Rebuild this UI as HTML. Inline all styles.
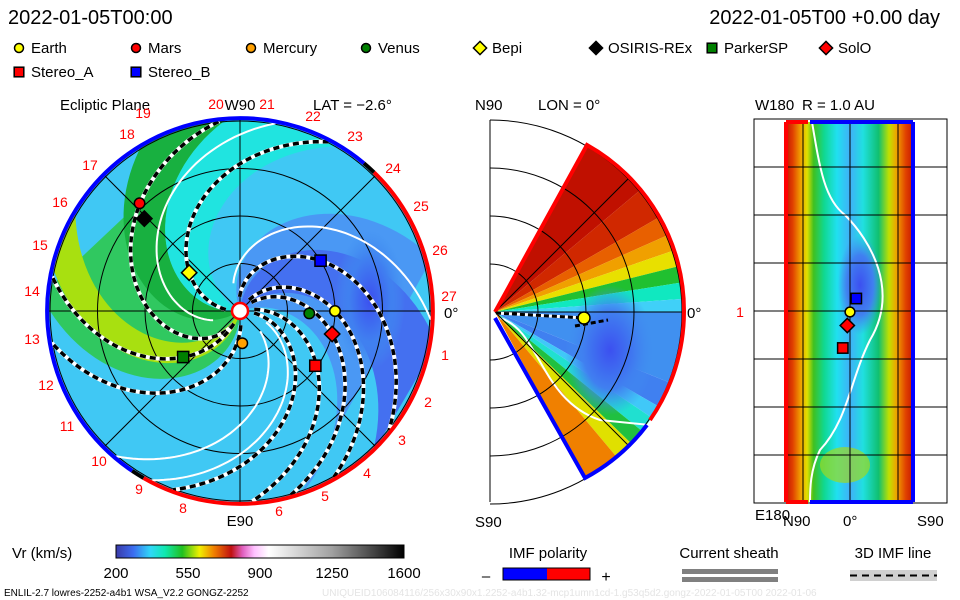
<!DOCTYPE html>
<html><head><meta charset="utf-8"><style>
html,body{margin:0;padding:0;background:#fff;width:960px;height:600px;overflow:hidden}
svg{position:absolute;left:0;top:0}
text{font-family:"Liberation Sans",sans-serif;}
</style></head><body>
<svg id="s" width="960" height="600" viewBox="0 0 960 600">
<defs>
<clipPath id="diskClip"><circle cx="240" cy="311" r="193"/></clipPath>
<clipPath id="wedgeClip"><path d="M495,312 L587,145 A190,190 0 0 1 585,478 Z"/></clipPath>
<linearGradient id="cbar" x1="0" x2="1" y1="0" y2="0">
<stop offset="0" stop-color="#3a3aa8"/><stop offset="0.06" stop-color="#3c6cf0"/><stop offset="0.12" stop-color="#30d8f8"/><stop offset="0.17" stop-color="#10e8b0"/><stop offset="0.23" stop-color="#20c020"/><stop offset="0.29" stop-color="#f0f000"/><stop offset="0.34" stop-color="#f08000"/><stop offset="0.4" stop-color="#c01010"/><stop offset="0.44" stop-color="#e060c0"/><stop offset="0.48" stop-color="#ffc0ff"/><stop offset="0.53" stop-color="#ffffff"/><stop offset="0.75" stop-color="#a0a0a0"/><stop offset="1" stop-color="#000000"/>
</linearGradient>
<linearGradient id="latGrad" x1="0" x2="1" y1="0" y2="0">
<stop offset="0" stop-color="#c01000"/><stop offset="0.06" stop-color="#e04000"/><stop offset="0.12" stop-color="#f0a000"/><stop offset="0.17" stop-color="#e0e000"/><stop offset="0.22" stop-color="#40c020"/><stop offset="0.3" stop-color="#10d890"/><stop offset="0.4" stop-color="#20e0f0"/><stop offset="0.5" stop-color="#40b0f8"/><stop offset="0.6" stop-color="#20e0e0"/><stop offset="0.72" stop-color="#10c070"/><stop offset="0.8" stop-color="#c0e000"/><stop offset="0.86" stop-color="#f0a000"/><stop offset="0.93" stop-color="#e04000"/><stop offset="1" stop-color="#c01000"/>
</linearGradient>
<radialGradient id="blobG"><stop offset="0" stop-color="#3c50f0"/><stop offset="0.6" stop-color="#4080f0"/><stop offset="1" stop-color="#4090f0" stop-opacity="0"/></radialGradient>
</defs>
<g id="disk" clip-path="url(#diskClip)"></g>
<g id="diskOver"></g>
<g id="wedge" clip-path="url(#wedgeClip)"></g>
<g id="wedgeOver"></g>
<g id="rect"></g>
<g id="labels"></g>
</svg>
<script>
// ---- data ----
const planetNames = ['Earth','Mars','Mercury','Venus','Bepi','OSIRIS-REx','ParkerSP','SolO','Stereo_A','Stereo_B'];
const planetAngles = [0,133,-86,-2,143,136,-141,-14,-36,32];     // degrees, ecliptic
const planetRadii = [1.0,1.55,0.34,0.73,0.67,1.40,0.77,1.0,0.98,1.0]; // AU
const planetShapes = ['circle','circle','circle','circle','diamond','diamond','square','diamond','square','square'];
const planetColors = ['#ffff00','#ff0000','#ffa000','#008000','#ffff00','#000000','#008000','#ff0000','#ff0000','#0000ff'];
const shellLat = [0,null,null,null,null,null,null,-3,-8,3];       // deg on R=1 panel
const shellLon = [0,null,null,null,null,null,null,-3,-8,7];
const spiralPhi1 = [32,0,-36,-14,-55,176,123,210,235];   // angle at 1 AU
const spiralK = [70,60,50,60,55,79,60,40,45];                // deg per AU
const sheathPhi1 = [60,-62,150,-80];
const sheathK = [62,55,70,50];
const bandA0 = [185,185,240,20,45,150];   // start angles at r=0
const bandA1 = [270,212,258,110,85,185];
const bandColors = ['#30c860','#18b040','#a8e010','#4a98f4','#4470f0','#20e4e0'];
const cbarTicks = ['200','550','900','1250','1600'];
const carrLabels = ['19','20','21','22','23','24','25','26','27','1','2','3','4','5','6','8','9','10','11','12','13','14','15','16','17','18'];

const NS='http://www.w3.org/2000/svg';
function mk(tag,attrs,parent){const e=document.createElementNS(NS,tag);for(const k in attrs)e.setAttribute(k,attrs[k]);parent.appendChild(e);return e;}
const CX=240,CY=311,S=95;
function pt(phi,r){const a=phi*Math.PI/180;return [CX+r*S*Math.cos(a),CY-r*S*Math.sin(a)];}
const disk=document.getElementById('disk'),over=document.getElementById('diskOver');

let e=mk('circle',{cx:CX,cy:CY,r:195,fill:'#40c8f4'},disk);


const k0=45;
for(let i=0;i<bandA0.length;i++){
  let p=[];
  for(let r=0;r<=2.1;r+=0.05){p.push(pt(bandA0[i]-k0*r,r));}
  for(let r=2.1;r>=0;r-=0.05){p.push(pt(bandA1[i]-k0*r,r));}
  e=mk('polygon',{points:p.map(q=>q.join(',')).join(' '),fill:bandColors[i]},disk);
  
  
}
e=mk('ellipse',{cx:370,cy:300,rx:35,ry:70,fill:'url(#blobG)'},disk);


// grid
[0.5,1,1.5,2].forEach(r=>{e=mk('circle',{cx:CX,cy:CY,r:r*S,fill:'none',stroke:'#000','stroke-width':1},over);

});
[0,45,90,135].forEach(a=>{const p1=pt(a,2.03),p2=pt(a+180,2.03);
e=mk('line',{x1:p1[0],y1:p1[1],x2:p2[0],y2:p2[1],stroke:'#000','stroke-width':1},over);

});
function spiralPath(p1,k,r0,r1){let d='';for(let r=r0;r<=r1+1e-6;r+=0.03){const p=pt(p1+k*(1-r),r);d+=(d?'L':'M')+p[0].toFixed(1)+','+p[1].toFixed(1);}return d;}
for(let i=0;i<sheathPhi1.length;i++){
  e=mk('path',{d:spiralPath(sheathPhi1[i],sheathK[i],0.3,2.03),fill:'none',stroke:'#fff','stroke-width':2},over);
  
  
}
for(let i=0;i<spiralPhi1.length;i++){
  const d=spiralPath(spiralPhi1[i],spiralK[i],0.15,2.03);
  e=mk('path',{d:d,fill:'none',stroke:'#fff','stroke-width':4},over);
  
  
  e=mk('path',{d:d,fill:'none',stroke:'#000','stroke-width':3.5,'stroke-dasharray':'6,4'},over);
  
  
}
// boundary polarity arcs
function arc(a0,a1,col){const p0=pt(a0,2.03),p1=pt(a1,2.03);const large=Math.abs(a1-a0)>180?1:0;
e=mk('path',{d:`M${p0[0]},${p0[1]} A${2.03*S},${2.03*S} 0 ${large} 0 ${p1[0]},${p1[1]}`,fill:'none',stroke:col,'stroke-width':4},over);

}
arc(50,236,'#0000ff');arc(236,240,'#000');arc(240,406,'#ff0000');arc(46,50,'#000');
e=mk('circle',{cx:CX,cy:CY,r:8,fill:'#fff',stroke:'#ff0000','stroke-width':2.5},over);


function marker(g,shape,x,y,col,sz){
  let m;
  if(shape==='circle')m=mk('circle',{cx:x,cy:y,r:sz*0.75,fill:col,stroke:'#000','stroke-width':1.5},g);
  else if(shape==='square')m=mk('rect',{x:x-sz*0.8,y:y-sz*0.8,width:sz*1.6,height:sz*1.6,fill:col,stroke:'#000','stroke-width':1.5},g);
  else m=mk('polygon',{points:`${x},${y-sz*1.1} ${x+sz*1.1},${y} ${x},${y+sz*1.1} ${x-sz*1.1},${y}`,fill:col,stroke:'#000','stroke-width':1.5},g);
  return m;
}
for(let i=0;i<planetNames.length;i++){const p=pt(planetAngles[i],planetRadii[i]);
  e=marker(over,planetShapes[i],p[0],p[1],planetColors[i],7);
  
  }

// ---- middle wedge ----
const W=document.getElementById('wedge'),WO=document.getElementById('wedgeOver');
const wStops=[[62,'#c01000'],[40,'#d02800'],[30,'#e86000'],[24,'#f0a000'],[19,'#e8e000'],[14,'#20c030'],[9,'#10e8c0'],[4,'#40d0f8'],[0,'#4090f0'],[-22,'#4080f0'],[-30,'#40c8f8'],[-34,'#20e0d0'],[-39,'#20c040'],[-44,'#e0e000'],[-50,'#f08000'],[-62,'#d02000']];
for(let i=0;i<wStops.length-1;i++){
  const a0=wStops[i][0]*Math.PI/180,a1=wStops[i+1][0]*Math.PI/180,R=200;
  e=mk('path',{d:`M495,312 L${495+R*Math.cos(a0)},${312-R*Math.sin(a0)} L${495+R*Math.cos((a0+a1)/2)},${312-R*Math.sin((a0+a1)/2)} L${495+R*Math.cos(a1)},${312-R*Math.sin(a1)} Z`,fill:wStops[i][1]},W);
  
  
}
e=mk('ellipse',{cx:610,cy:350,rx:45,ry:65,fill:'url(#blobG)'},W);


e=mk('path',{d:'M500,318 C540,330 540,400 600,420 L650,425',fill:'none',stroke:'#fff','stroke-width':2},W);


e=mk('path',{d:'M490,120 L490,502',stroke:'#000',fill:'none'},WO);


[48,96,144,192].forEach(r=>{e=mk('path',{d:`M490,${312-r} A${r},${r} 0 0 1 490,${312+r}`,fill:'none',stroke:'#000'},WO);

});
[[0],[45],[-45]].forEach(a=>{const t=a[0]*Math.PI/180;e=mk('line',{x1:495,y1:312,x2:495+190*Math.cos(t),y2:312-190*Math.sin(t),stroke:'#000'},WO);

});
e=mk('path',{d:'M495,312 L587,145 A190,190 0 0 1 684,312',fill:'none',stroke:'#ff0000','stroke-width':4},WO);


e=mk('path',{d:'M684,312 A190,190 0 0 1 650,420',fill:'none',stroke:'#ff0000','stroke-width':4},WO);


e=mk('path',{d:'M495,318 L585,478 A190,190 0 0 0 647,425',fill:'none',stroke:'#0000ff','stroke-width':4},WO);


e=mk('path',{d:'M496,313 L585,318',fill:'none',stroke:'#fff','stroke-width':3},WO);


e=mk('path',{d:'M496,313 L585,318 M575,326 L608,320',fill:'none',stroke:'#000','stroke-width':3,'stroke-dasharray':'5,3'},WO);


e=marker(WO,'circle',584,318,'#ffff00',8);



// ---- right shell panel ----
const RG=document.getElementById('rect');
e=mk('rect',{x:785,y:122,width:130,height:380,fill:'url(#latGrad)'},RG);


e=mk('ellipse',{cx:860,cy:285,rx:22,ry:50,fill:'url(#blobG)'},RG);


e=mk('ellipse',{cx:845,cy:465,rx:25,ry:18,fill:'#a0d820',opacity:0.7},RG);


e=mk('path',{d:'M812,122 C820,170 825,200 845,215 C870,240 900,290 870,340 C850,380 848,420 820,450 C810,470 810,490 810,502',fill:'none',stroke:'#fff','stroke-width':2},RG);


e=mk('rect',{x:754,y:119,width:193,height:384,fill:'none',stroke:'#000'},RG);


[803,850,898].forEach(x=>{e=mk('line',{x1:x,y1:122,x2:x,y2:502,stroke:'#000'},RG);

});
[167,215,263,311,359,407,455].forEach(y=>{e=mk('line',{x1:754,y1:y,x2:947,y2:y,stroke:'#000'},RG);

});
e=mk('path',{d:'M786,122 L786,502 M786,122 L808,122 M786,502 L808,502',fill:'none',stroke:'#ff0000','stroke-width':4},RG);


e=mk('path',{d:'M913,122 L913,502 M810,122 L913,122 M810,502 L913,502',fill:'none',stroke:'#0000ff','stroke-width':4},RG);


for(let i=0;i<planetNames.length;i++){if(shellLat[i]===null)continue;
  const x=850+shellLon[i]*0.9, y=312-shellLat[i]*4.5;
  e=marker(RG,planetShapes[i],x,y,planetColors[i],6.5);
  
  }

// ---- labels ----
const L=document.getElementById('labels');
function txt(s,x,y,size,col,anchor,name){const t=mk('text',{x:x,y:y,'font-size':size,fill:col||'#000','text-anchor':anchor||'start'},L);t.textContent=s;

return t;}
txt('2022-01-05T00:00',8,24,20,'#000','start','title-time');
txt('2022-01-05T00 +0.00 day',940,24,20,'#000','end','title-offset');
const legX=[19,136,251,366,480,596,712,826,19,136];
const legY=[48,48,48,48,48,48,48,48,72,72];
for(let i=0;i<planetNames.length;i++){
  e=marker(L,planetShapes[i],legX[i],legY[i],planetColors[i],6);
  
  
  txt(planetNames[i],legX[i]+12,legY[i]+5,15,'#000','start','legend-entry');
}
txt('Ecliptic Plane',60,110,15,'#000','start','ecliptic-title');
txt('W90',240,110,15,'#000','middle','w90-label');
txt('LAT = −2.6°',313,110,15,'#000','start','lat-label');
txt('E90',240,526,15,'#000','middle','e90-label');
txt('0°',444,318,15,'#000','start','zero-label');
txt('N90',475,110,15,'#000','start','n90-label');
txt('LON = 0°',538,110,15,'#000','start','lon-label');
txt('0°',687,318,15,'#000','start','zero-label-mid');
txt('S90',475,527,15,'#000','start','s90-label');
txt('W180',755,110,15,'#000','start','w180-label');
txt('R = 1.0 AU',802,110,15,'#000','start','r-label');
txt('1',740,317,14,'#ff0000','middle','one-label');
txt('E180',755,520,15,'#000','start','e180-label');
txt('N90',783,526,15,'#000','start','n90-shell');
txt('0°',843,526,15,'#000','start','zero-shell');
txt('S90',917,526,15,'#000','start','s90-shell');
const carrXY=[[143,118],[216,109],[267,109],[313,121],[355,141],[393,173],[421,211],[440,255],[449,301],[445,360],[428,407],[402,445],[367,478],[325,501],[279,516],[183,513],[139,494],[99,466],[67,431],[46,390],[32,344],[32,296],[40,250],[60,207],[90,170],[127,139]];
carrLabels.forEach((s,i)=>txt(s,carrXY[i][0],carrXY[i][1],14,'#ff0000','middle','carrington-label'));
// bottom legend
txt('Vr (km/s)',12,558,15,'#000','start','colorbar-title');
e=mk('rect',{x:116,y:545,width:288,height:13,fill:'url(#cbar)',stroke:'#000'},L);


cbarTicks.forEach((s,i)=>txt(s,116+i*72,578,15,'#000','middle','colorbar-tick'));
txt('IMF polarity',548,558,15,'#000','middle','imf-polarity-title');
e=mk('rect',{x:503,y:568,width:44,height:12,fill:'#0000ff'},L);


e=mk('rect',{x:547,y:568,width:43,height:12,fill:'#ff0000'},L);


e=mk('rect',{x:503,y:568,width:87,height:12,fill:'none',stroke:'#000'},L);


txt('–',486,581,15,'#000','middle','minus-sign');
txt('+',606,582,16,'#000','middle','plus-sign');
txt('Current sheath',729,558,15,'#000','middle','current-sheath-title');
e=mk('rect',{x:682,y:569,width:96,height:5,fill:'#808080'},L);


e=mk('rect',{x:682,y:577,width:96,height:5,fill:'#808080'},L);


txt('3D IMF line',893,558,15,'#000','middle','imf-line-title');
e=mk('rect',{x:850,y:570,width:87,height:11,fill:'#d0d0d0'},L);


e=mk('line',{x1:850,y1:575.5,x2:937,y2:575.5,stroke:'#000','stroke-width':2,'stroke-dasharray':'7,5'},L);


txt('ENLIL-2.7 lowres-2252-a4b1 WSA_V2.2 GONGZ-2252',4,596,10,'#000','start','model-info');
txt('UNIQUEID106084116/256x30x90x1.2252-a4b1.32-mcp1umn1cd-1.g53q5d2.gongz-2022-01-05T00    2022-01-06',322,596,10,'#e4e4e4','start','unique-id');
</script>
</body></html>
